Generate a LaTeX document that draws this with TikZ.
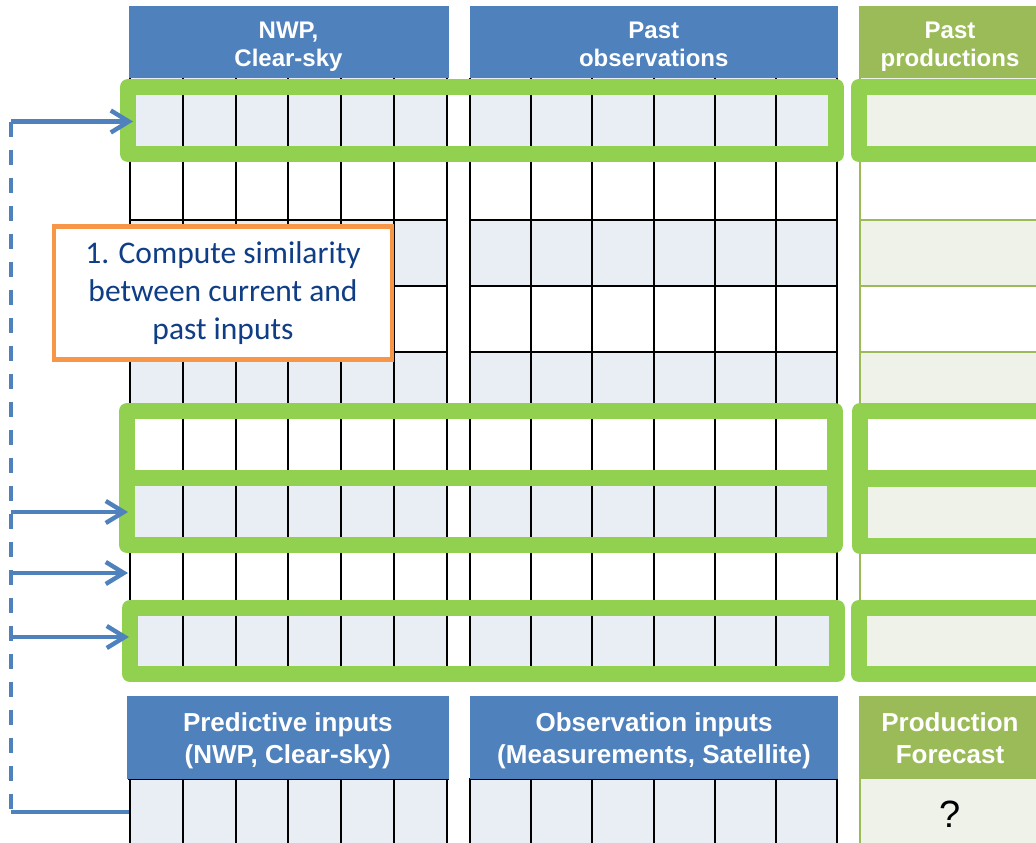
\documentclass[tikz,border=0pt]{standalone}
\usepackage{fontspec}
\setmainfont{Liberation Sans}
\newfontfamily\calib{Carlito}
\usetikzlibrary{arrows.meta,calc}
\definecolor{hdrblue}{HTML}{4F81BD}
\definecolor{hdrgreen}{HTML}{9BBB59}
\definecolor{bandblue}{HTML}{E9EDF4}
\definecolor{bandgreen}{HTML}{EEF2E8}
\definecolor{hlgreen}{HTML}{92D050}
\definecolor{orng}{HTML}{F79646}
\definecolor{txtblue}{HTML}{0F3E86}
\begin{document}
\begin{tikzpicture}[x=1pt,y=-1pt,
  hdrbox/.style={inner sep=0pt, outer sep=0pt, draw=none},
  hdrtxt/.style={inner sep=0pt, text=white, align=center, font=\bfseries\fontsize{24}{28.5}\selectfont},
  hdrtxtb/.style={inner sep=0pt, text=white, align=center, font=\bfseries\fontsize{26}{31.5}\selectfont},
  gridline/.style={line width=2pt, draw=black},
  gline/.style={line width=1.3pt, draw=hdrgreen},
  hl/.style={draw=hlgreen, line width=16pt, line join=round, inner sep=0pt, outer sep=0pt},
  conn/.style={draw=hdrblue, line width=4.4pt},
  arr/.style={-{Straight Barb[length=18pt,width=22pt]}},
  notebox/.style={draw=orng, line width=4.5pt, fill=white, inner sep=0pt, text=txtblue, align=center, font=\calib\fontsize{31.5}{38}\selectfont},
]
\useasboundingbox (0,0) rectangle (1036,843);
\clip (0,0) rectangle (1036,843);

% row fills
\foreach \t/\b/\f/\g in {78/154/bandblue/bandgreen,154/220/white/white,220/286/bandblue/bandgreen,286/352/white/white,352/418/bandblue/bandgreen,418/478/white/white,478/545/bandblue/bandgreen,545/608/white/white,608/680/bandblue/bandgreen}{
  \fill[\f] (130,\t) rectangle (447,\b);
  \fill[\f] (470,\t) rectangle (837,\b);
  \fill[\g] (860,\t) rectangle (1041,\b);
}
% grid lines
\foreach \i in {0,...,6}{
  \draw[gridline] ({130+52.8*\i},78) -- ({130+52.8*\i},680);
  \draw[gridline] ({470+61.2*\i},78) -- ({470+61.2*\i},680);
}
\foreach \y in {154,220,286,352,418,478,545,608}{
  \draw[gridline] (130,\y) -- (447,\y);
  \draw[gridline] (470,\y) -- (837,\y);
  \draw[gline] (860,\y) -- (1041,\y);
}
\draw[gline] (860,78) -- (860,680);

% top headers
\node[hdrbox, fill=hdrblue, minimum width=320, minimum height=72] (hA) at (288.5,42) {};
\node[hdrbox, fill=hdrblue, minimum width=368.5, minimum height=72] (hB) at (653.75,42) {};
\node[hdrbox, fill=hdrgreen, minimum width=182, minimum height=72] (hC) at (950,42) {};
\node[hdrtxt] (hAt) at (288.5,46.5) {\vphantom{Ay}NWP,\\Clear-sky\vphantom{y}};
\node[hdrtxt] (hBt) at (653.75,46.5) {\vphantom{Ay}Past\\observations\vphantom{y}};
\node[hdrtxt] (hCt) at (950,46.5) {\vphantom{Ay}Past\\productions\vphantom{y}};

% green highlight boxes
\node[hl, minimum width=708, minimum height=67] (h1) at (482,120.5) {};
\node[hl, minimum width=200, minimum height=67] (h1r) at (959,120.5) {};
\node[hl, minimum width=708, minimum height=67] (h2) at (481,444.5) {};
\node[hl, minimum width=200, minimum height=67] (h2r) at (960,444.5) {};
\node[hl, minimum width=708, minimum height=67] (h3) at (481,511.5) {};
\node[hl, minimum width=200, minimum height=67] (h3r) at (960,512.5) {};
\node[hl, minimum width=707, minimum height=66] (h4) at (483.5,641) {};
\node[hl, minimum width=200, minimum height=66] (h4r) at (959,641) {};

% bottom section
\fill[bandblue] (130,779) rectangle (447,850);
\fill[bandblue] (470,779) rectangle (837,850);
\fill[bandgreen] (860,779) rectangle (1041,850);
\foreach \i in {0,...,6}{
  \draw[gridline] ({130+52.8*\i},779) -- ({130+52.8*\i},850);
  \draw[gridline] ({470+61.2*\i},779) -- ({470+61.2*\i},850);
}
\draw[gridline] (128,779) -- (449,779);
\draw[gridline] (469,779) -- (838,779);
\draw[gline] (860,779) -- (860,850);
\node[hdrbox, fill=hdrblue, minimum width=321.5, minimum height=83] (bA) at (287.75,737.5) {};
\node[hdrbox, fill=hdrblue, minimum width=368, minimum height=83] (bB) at (654,737.5) {};
\node[hdrbox, fill=hdrgreen, minimum width=182, minimum height=83] (bC) at (950,737.5) {};
\node[hdrtxtb] (bAt) at (287.75,741) {\vphantom{Ay}Predictive inputs\\(NWP, Clear-sky)\vphantom{y}};
\node[hdrtxtb] (bBt) at (654,741) {\vphantom{Ay}Observation inputs\\(Measurements, Satellite)\vphantom{y}};
\node[hdrtxtb] (bCt) at (950,741) {\vphantom{Ay}Production\\Forecast\vphantom{y}};
\node[inner sep=0pt, font=\fontsize{38}{38}\selectfont] (q) at (950,814) {?};

% note box
\node[notebox, minimum width=338, minimum height=133] (note) at (223,293) {1. Compute similarity\\between current and\\past inputs};

% connectors
\coordinate (s1) at (11,121.5);
\coordinate (s2) at (11,512);
\coordinate (s3) at (11,573);
\coordinate (s4) at (11,637);
\coordinate (s5) at (11,812);
\coordinate (t1) at (133,121.5);
\coordinate (t2) at (128,512);
\coordinate (t3) at (128,573);
\coordinate (t4) at (129,637);
\coordinate (t5) at (129,812);
\draw[conn, dash pattern=on 15pt off 13pt] (s1) -- (s5);
\draw[conn, arr] (s1) -- (t1);
\draw[conn, arr] (s2) -- (t2);
\draw[conn, arr] (s3) -- (t3);
\draw[conn, arr] (s4) -- (t4);
\draw[conn] (s5) -- (t5);
\end{tikzpicture}
\end{document}
